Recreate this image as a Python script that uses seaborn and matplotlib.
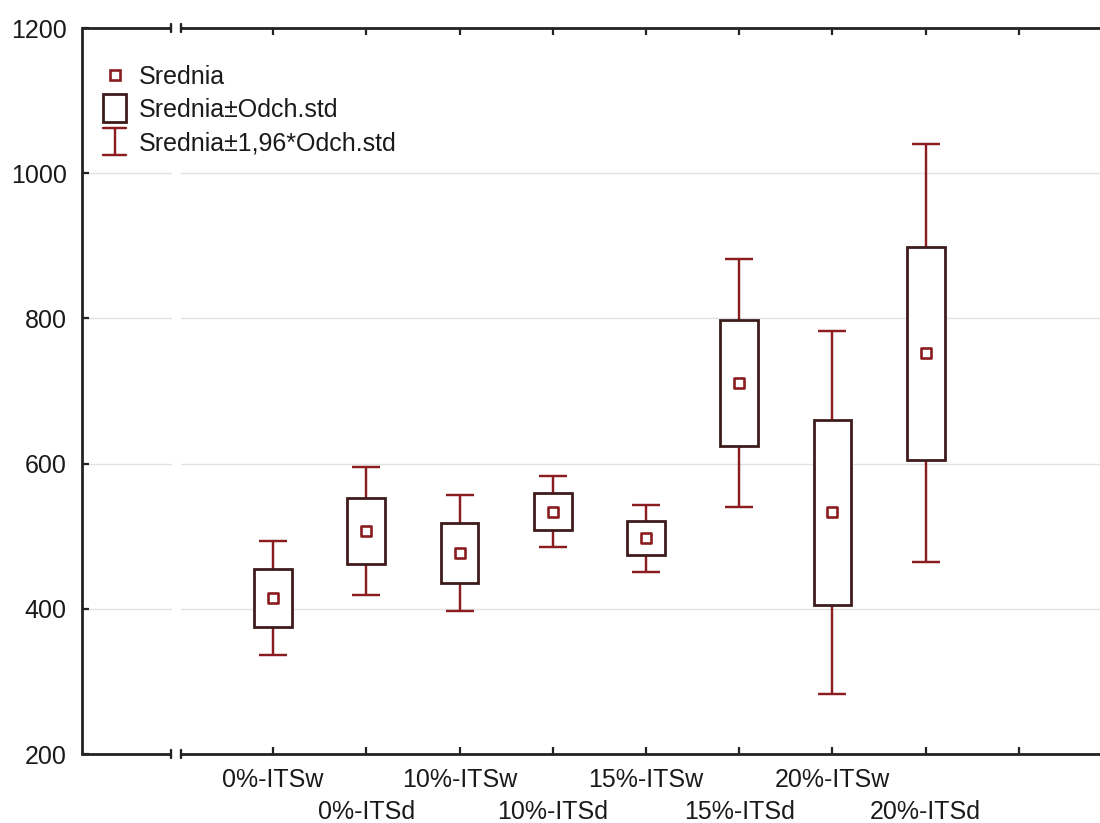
import numpy as np
import pandas as pd
import matplotlib
matplotlib.use("Agg")
import matplotlib.pyplot as plt
import matplotlib.transforms as mtransforms
import seaborn as sns
from matplotlib.lines import Line2D
from matplotlib.patches import Rectangle
from matplotlib.legend_handler import HandlerBase

# ---- data ----
categories = ['0%-ITSw', '0%-ITSd', '10%-ITSw', '10%-ITSd',
              '15%-ITSw', '15%-ITSd', '20%-ITSw', '20%-ITSd']
means = [415, 507, 477, 534, 497, 711, 533, 752]
sds = [40, 45, 41, 25, 23.5, 87, 127.5, 147]
yticks = [200, 400, 600, 800, 1000, 1200]
legend_labels = ['Srednia', 'Srednia±Odch.std', 'Srednia±1,96*Odch.std']

# ---- style ----
sns.set_theme(style='white')
plt.rcParams['font.family'] = ['Liberation Sans', 'DejaVu Sans']

BOX_C = '#3e1c1c'
RED = '#8b1c1f'
AX_C = '#222222'
FS = 18

df = pd.DataFrame({'cat': categories, 'mean': means, 'sd': sds})
df['pos'] = np.arange(1, len(categories) + 1)
df['lo1'] = df['mean'] - df['sd']
df['lo2'] = df['mean'] - 1.96 * df['sd']
df['hi2'] = df['mean'] + 1.96 * df['sd']

fig = plt.figure(figsize=(11, 8.23), dpi=100)
ax = fig.add_axes([82 / 1100, 69 / 823, 1018 / 1100, 726 / 823])

xmin, xmax = -1.05, 9.87
ymin, ymax = 200, 1200
ax.set_xlim(xmin, xmax)
ax.set_ylim(ymin, ymax)

# gridlines
ax.set_axisbelow(True)
ax.yaxis.grid(True, color='#e2e2e2', linewidth=1.0)
ax.xaxis.grid(False)
# break gap in gridlines
ax.axvspan(-0.085, 0.01, color='white', zorder=0.7, lw=0)

# whiskers (mean ± 1.96 sd)
ax.errorbar(df['pos'], df['mean'],
            yerr=[df['mean'] - df['lo2'], df['hi2'] - df['mean']],
            fmt='none', ecolor=RED, elinewidth=1.75, capsize=10.2,
            capthick=1.75, zorder=2)
# boxes (mean ± sd)
ax.bar(df['pos'], 2 * df['sd'], bottom=df['lo1'], width=0.405,
       facecolor='white', edgecolor=BOX_C, linewidth=2.0, zorder=3)
# means
sns.scatterplot(data=df, x='pos', y='mean', marker='s', s=60,
                facecolor='white', edgecolor=RED, linewidth=1.9,
                ax=ax, zorder=4, legend=False)
ax.set_xlabel('')
ax.set_ylabel('')

# spines: left visible, top/bottom drawn with break
for s in ['right', 'top', 'bottom']:
    ax.spines[s].set_visible(False)
ax.spines['left'].set_color(AX_C)
ax.spines['left'].set_linewidth(2.0)

bl, br = -0.095, 0.012
for yy in (ymin, ymax):
    ax.plot([xmin, bl], [yy, yy], color=AX_C, lw=2.0, clip_on=False,
            solid_capstyle='butt', zorder=5)
    ax.plot([br, xmax], [yy, yy], color=AX_C, lw=2.0, clip_on=False,
            solid_capstyle='butt', zorder=5)
    for xb in (bl, br):
        ax.plot([xb, xb], [yy - 5.5, yy + 5.5], color=AX_C, lw=1.7,
                clip_on=False, zorder=5)

# ticks
ax.set_yticks(yticks)
ax.set_yticklabels([str(v) for v in yticks])
xt = list(range(1, len(categories) + 2))
ax.set_xticks(xt)
ax.set_xticklabels(categories + [''])
ax.tick_params(axis='y', direction='in', length=5, width=1.6, color=AX_C,
               labelsize=FS, labelcolor='#1a1a1a', pad=11, left=True)
ax.tick_params(axis='x', direction='in', length=5, width=1.6, color=AX_C,
               labelsize=FS, labelcolor='#1a1a1a', pad=10, bottom=True,
               top=True)
# stagger every second category label onto a second row
offset = mtransforms.ScaledTranslation(0, -32 / 100, fig.dpi_scale_trans)
for i, lab in enumerate(ax.get_xticklabels()):
    if i % 2 == 1:
        lab.set_transform(lab.get_transform() + offset)


# ---- legend ----
class BoxHandler(HandlerBase):
    def create_artists(self, legend, orig_handle, xdescent, ydescent,
                       width, height, fontsize, trans):
        w = 16.5
        h = 19.5
        cx = -xdescent + width / 2
        cy = -ydescent + height / 2
        r = Rectangle((cx - w / 2, cy - h / 2), w, h, facecolor='white',
                      edgecolor=BOX_C, linewidth=2.0, transform=trans)
        return [r]


class WhiskerHandler(HandlerBase):
    def create_artists(self, legend, orig_handle, xdescent, ydescent,
                       width, height, fontsize, trans):
        w = 16.5
        h = 19.5
        cx = -xdescent + width / 2
        cy = -ydescent + height / 2
        xs = [cx - w / 2, cx + w / 2, np.nan, cx, cx, np.nan,
              cx - w / 2, cx + w / 2]
        ys = [cy + h / 2, cy + h / 2, np.nan, cy + h / 2, cy - h / 2,
              np.nan, cy - h / 2, cy - h / 2]
        ln = Line2D(xs, ys, color=RED, linewidth=1.75, transform=trans)
        return [ln]


h_mean = Line2D([], [], marker='s', ls='', markerfacecolor='white',
                markeredgecolor=RED, markeredgewidth=1.9, markersize=7.5)


class _Box:
    pass


class _Wh:
    pass


hb, hw = _Box(), _Wh()
leg = ax.legend([h_mean, hb, hw], legend_labels,
                handler_map={_Box: BoxHandler(), _Wh: WhiskerHandler()},
                loc='upper left', bbox_to_anchor=(0.013, 0.96),
                borderaxespad=0, borderpad=0.3, frameon=False,
                fontsize=FS, handlelength=0.95, handletextpad=0.5,
                labelspacing=0.37)
for t in leg.get_texts():
    t.set_color('#1a1a1a')

fig.savefig('out.png', dpi=100, facecolor='white')
